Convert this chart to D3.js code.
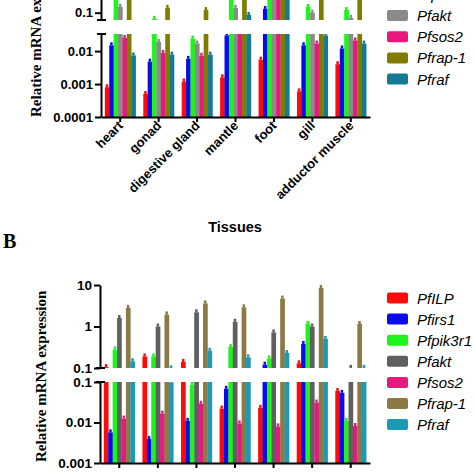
<!DOCTYPE html>
<html><head><meta charset="utf-8">
<script src="https://cdn.jsdelivr.net/npm/d3@7"></script>
<style>body{margin:0;background:#fff}svg{display:block}</style>
</head><body>
<script>
// ---------- DATA ----------
const tissues = ["heart","gonad","digestive gland","mantle","foot","gill","adductor muscle"];
const genes = ["PfILP","Pfirs1","Pfpik3r1","Pfakt","Pfsos2","Pfrap-1","Pfraf"];

// Panel A (values per gene across tissues)
const aPfILP    = [0.0008, 0.0005, 0.0012, 0.0016, 0.0055, 0.0006, 0.004];
const aPfirs1   = [0.015, 0.0048, 0.0058, 0.03, 0.13, 0.015, 0.012];
const aPfpik3r1 = [0.8, 0.065, 0.024, 0.8, 0.8, 0.15, 0.12];
const aPfakt    = [0.15, 0.019, 0.017, 0.14, 0.8, 0.1, 0.07];
const aPfsos2   = [0.025, 0.0088, 0.0072, 0.05, 0.8, 0.017, 0.021];
const aPfrap1   = [0.8, 0.14, 0.12, 0.8, 0.8, 0.8, 0.8];
const aPfraf    = [0.0074, 0.0078, 0.0078, 0.085, 0.8, 0.03, 0.017];

// Panel B
const bPfILP    = [0.105, 0.19, 0.14, 0.022, 0.023, 0.13, 0.06];
const bPfirs1   = [0.0057, 0.0039, 0.011, 0.068, 0.12, 0.38, 0.054];
const bPfpik3r1 = [0.28, 0.19, 0.085, 0.32, 0.17, 1.15, 0.011];
const bPfakt    = [1.6, 1.0, 2.2, 1.3, 0.72, 1.0, 0.1005];
const bPfsos2   = [0.0125, 0.0165, 0.029, 0.0095, 0.008, 0.031, 0.0082];
const bPfrap1   = [2.8, 1.95, 3.6, 2.9, 4.7, 8.5, 1.15];
const bPfraf    = [0.145, 0.098, 0.26, 0.18, 0.23, 0.5, 0.1005];

const aLowTicks = [0.0001, 0.001, 0.01];
const aLowLabels = ["0.0001", "0.001", "0.01"];
const aHighTicks = [0.1];
const aHighLabels = ["0.1"];
const bLowTicks = [0.001, 0.01, 0.1];
const bLowLabels = ["0.001", "0.01", "0.1"];
const bHighTicks = [0.1, 1, 10];
const bHighLabels = ["0.1", "1", "10"];

const colorsA = ["#ff0a0a","#0a0aee","#1cf41c","#8a8a8a","#e8197a","#7f7d00","#127a92"];
const colorsB = ["#ff0a0a","#0a0aee","#1cf41c","#5f5f5f","#e8197d","#8b7a46","#1e99b4"];

// ---------- DRAW ----------
const W = 474, H = 474;
const svg = d3.select("body").append("svg").attr("width", W).attr("height", H)
  .style("font-family", "'Liberation Sans', Arial, sans-serif");

let clipId = 0;
function panel(o) {
  const g = svg.append("g");
  const x0 = d3.scaleBand().domain(tissues).range([o.left, o.right]).paddingInner(0.2).paddingOuter(0.1);
  const x1 = d3.scaleBand().domain(genes).range([0, x0.bandwidth()]);
  const yLo = d3.scaleLog().domain(o.loDomain).range(o.loRange);
  const yHi = d3.scaleLog().domain(o.hiDomain).range(o.hiRange);
  const base = o.loRange[0], loTop = o.loRange[1], hiBot = o.hiRange[0];

  const rows = genes.flatMap((gn, gi) => tissues.map((t, ti) => ({gene: gn, tissue: t, v: o.values[gi][ti], gi})));

  const idLo = "clipLo" + (clipId++), idHi = "clipHi" + (clipId++);
  const defs = svg.append("defs");
  defs.append("clipPath").attr("id", idLo).append("rect")
    .attr("x", 0).attr("y", loTop).attr("width", W).attr("height", base - loTop);
  defs.append("clipPath").attr("id", idHi).append("rect")
    .attr("x", 0).attr("y", -600).attr("width", W).attr("height", hiBot + 600);

  const bx = d => x0(d.tissue) + x1(d.gene);
  const bw = x1.bandwidth();

  function bars(sel, y, bottom, list) {
    sel.selectAll("rect.bar").data(list).join("rect").attr("class", "bar")
      .attr("x", bx).attr("width", bw + 0.3)
      .attr("y", d => y(d.v)).attr("height", d => Math.max(0, bottom - y(d.v)))
      .attr("fill", d => o.colors[d.gi]);
    sel.selectAll("rect.cap").data(list).join("rect").attr("class", "cap")
      .attr("x", d => bx(d) + bw * 0.22).attr("width", bw * 0.56)
      .attr("y", d => y(d.v) - 3).attr("height", 3)
      .attr("fill", d => o.colors[d.gi]);
  }
  const gLo = g.append("g").attr("clip-path", `url(#${idLo})`);
  bars(gLo, yLo, base, rows);
  const gHi = g.append("g").attr("clip-path", `url(#${idHi})`);
  bars(gHi, yHi, hiBot, rows.filter(d => d.v > o.hiDomain[0] * 0.97));

  // y axes
  const axLo = d3.axisLeft(yLo).tickValues(o.loTicks).tickFormat((d, i) => o.loLabels[i]).tickSize(6).tickSizeOuter(0).tickPadding(2);
  const axHi = d3.axisLeft(yHi).tickValues(o.hiTicks).tickFormat((d, i) => o.hiLabels[i]).tickSize(6).tickSizeOuter(0).tickPadding(2);
  [axLo, axHi].forEach(ax => {
    const a = g.append("g").attr("transform", `translate(${o.left},0)`).call(ax);
    a.select(".domain").attr("stroke", "#000").attr("stroke-width", 2);
    a.selectAll(".tick line").attr("stroke", "#000").attr("stroke-width", 2);
    a.selectAll(".tick text").attr("fill", "#000").style("font-size", o.tickFont + "px").style("font-weight", "bold");
  });
  // break caps
  [hiBot, loTop].forEach(yy => {
    g.append("line").attr("x1", o.left - 4).attr("x2", o.left + 5).attr("y1", yy).attr("y2", yy)
      .attr("stroke", "#000").attr("stroke-width", 2);
  });

  // x axis
  const axX = d3.axisBottom(x0).tickSize(5).tickSizeOuter(0).tickFormat("");
  const xa = g.append("g").attr("transform", `translate(0,${base})`).call(axX);
  xa.select(".domain").attr("stroke", "#000").attr("stroke-width", 2);
  xa.selectAll(".tick line").attr("stroke", "#000").attr("stroke-width", 2);

  if (o.showXLabels) {
    g.selectAll("text.xl").data(tissues).join("text").attr("class", "xl")
      .attr("transform", d => `translate(${x0(d) + x0.bandwidth() / 2 + 3.5},${base + 9.5}) rotate(-45)`)
      .attr("text-anchor", "end").style("font-size", "13px").style("font-weight", "bold")
      .text(d => d);
  }

  // y title
  g.append("text").attr("transform", `translate(${o.ytX},${o.ytY}) rotate(-90)`)
    .attr("text-anchor", "start")
    .style("font-family", "'Liberation Serif', 'Times New Roman', serif")
    .style("font-weight", "bold").style("font-size", "15px")
    .text("Relative mRNA expression");

  // legend
  const lg = g.append("g");
  genes.forEach((gn, i) => {
    const cy = o.legY0 + i * o.legStep;
    lg.append("rect").attr("x", 387).attr("y", cy - 5.5).attr("width", 21).attr("height", 11).attr("rx", 2)
      .attr("fill", o.colors[i]);
    lg.append("text").attr("x", 417).attr("y", cy + 5.5).style("font-size", "15px").style("font-style", "italic")
      .text(gn);
  });
}

panel({
  left: 101, right: 370,
  loDomain: [0.0001, 0.033], loRange: [117, 34],
  hiDomain: [0.06, 1], hiRange: [20, -20.3],
  loTicks: aLowTicks, loLabels: aLowLabels, hiTicks: aHighTicks, hiLabels: aHighLabels,
  values: [aPfILP, aPfirs1, aPfpik3r1, aPfakt, aPfsos2, aPfrap1, aPfraf],
  colors: colorsA, tickFont: 13, showXLabels: true, ytX: 40.5, ytY: 117,
  legY0: 15.5 - 3 * 21.2, legStep: 21.2
});

panel({
  left: 100, right: 370,
  loDomain: [0.001, 0.1], loRange: [463, 382],
  hiDomain: [0.1, 10], hiRange: [368, 285],
  loTicks: bLowTicks, loLabels: bLowLabels, hiTicks: bHighTicks, hiLabels: bHighLabels,
  values: [bPfILP, bPfirs1, bPfpik3r1, bPfakt, bPfsos2, bPfrap1, bPfraf],
  colors: colorsB, tickFont: 13.5, showXLabels: false, ytX: 46, ytY: 462,
  legY0: 298, legStep: 21.1
});

svg.append("text").attr("x", 235).attr("y", 232).attr("text-anchor", "middle")
  .style("font-weight", "bold").style("font-size", "14.5px").text("Tissues");

svg.append("text").attr("x", 3).attr("y", 248)
  .style("font-family", "'Liberation Serif', 'Times New Roman', serif")
  .style("font-weight", "bold").style("font-size", "20px").text("B");
</script>
</body></html>
